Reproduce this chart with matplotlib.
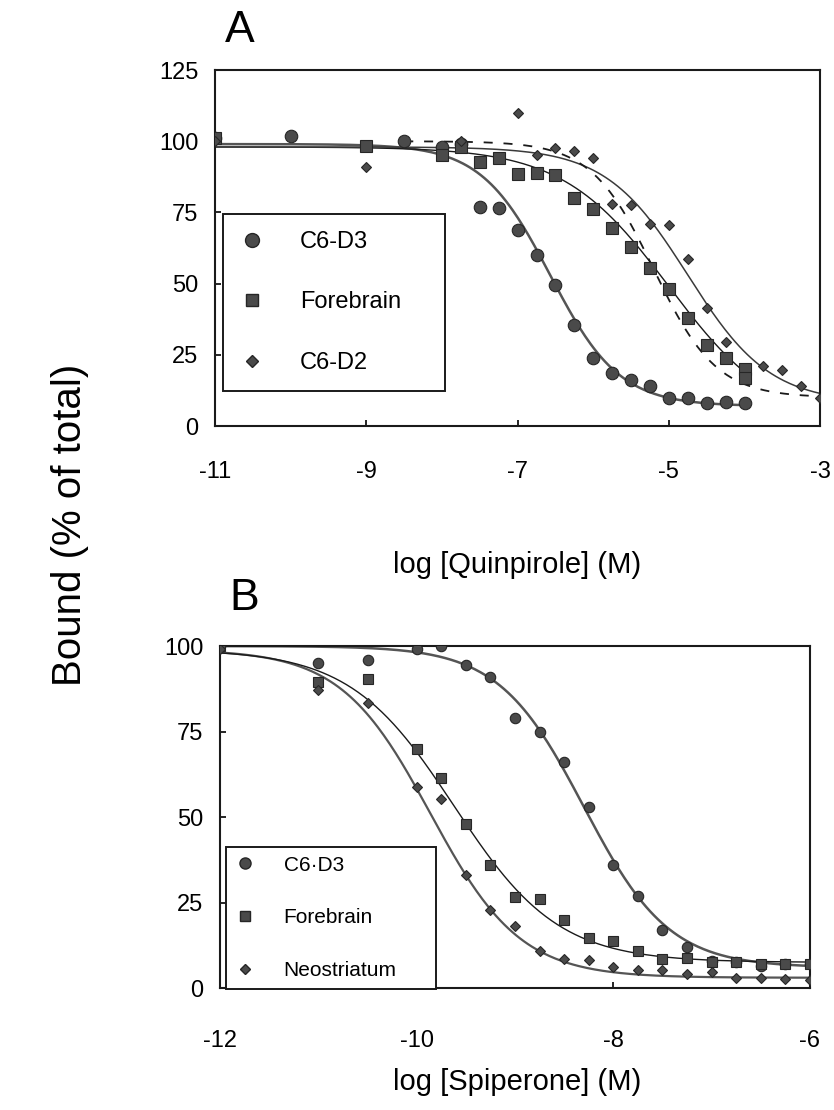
import numpy as np
import matplotlib.pyplot as plt
from matplotlib.lines import Line2D

plt.rcParams['font.family'] = ['Liberation Sans', 'DejaVu Sans']
plt.rcParams['axes.unicode_minus'] = False

# ---- panel A: log [Quinpirole] (M) ----
a_d3_x = [-11, -10, -8.5, -8, -7.75, -7.5, -7.25, -7, -6.75, -6.5, -6.25,
          -6, -5.75, -5.5, -5.25, -5, -4.75, -4.5, -4.25, -4]
a_d3_y = [101, 102, 100, 98, 99, 77, 76.5, 69, 60, 49.5, 35.5,
          24, 18.5, 16, 14, 10, 10, 8, 8.5, 8]

a_fb_x = [-11, -9, -8, -7.75, -7.5, -7.25, -7, -6.75, -6.5, -6.25, -6,
          -5.75, -5.5, -5.25, -5, -4.75, -4.5, -4.25, -4, -4]
a_fb_y = [101, 98.5, 95, 98, 92.7, 94, 88.6, 89, 88, 80, 76.3,
          69.5, 63, 55.5, 48, 38, 28.5, 24, 20, 17]

a_d2_x = [-11, -9, -7.75, -7, -6.75, -6.5, -6.25, -6, -5.75, -5.5, -5.25,
          -5, -4.75, -4.5, -4.25, -3.75, -3.5, -3.25, -3]
a_d2_y = [100, 91, 100, 110, 95, 97.5, 96.5, 94, 78, 77.5, 71,
          70.5, 58.5, 41.5, 29.5, 21, 19.5, 14, 10]

# fitted curves: top, bottom, logIC50, slope, x range
a_d3_fit = [99, 7, -6.57, 0.95, -11, -4]
a_fb_fit = [98, 0, -5.0, 0.62, -11, -4]
a_d2_fit = [98, 8, -4.75, 0.8, -11, -3]
a_dash_fit = [100, 10, -5.2, 1.05, -8.5, -3]

# ---- panel B: log [Spiperone] (M) ----
b_x = [-12, -11, -10.5, -10, -9.75, -9.5, -9.25, -9, -8.75, -8.5, -8.25,
       -8, -7.75, -7.5, -7.25, -7, -6.75, -6.5, -6.25, -6]
b_d3_y = [100, 95, 96, 99, 100, 94.5, 91, 79, 75, 66, 53,
          36, 27, 17, 12, 8, 7.5, 6.5, 7, 7]
b_fb_y = [100, 89.5, 90.5, 70, 61.5, 48, 36, 26.5, 26, 20, 14.7,
          13.7, 10.8, 8.5, 8.8, 7.5, 7.5, 7, 7, 7]
b_ns_y = [99, 87, 83.3, 58.7, 55.2, 33, 22.7, 18, 10.8, 8.5, 8.1,
          6.2, 5.2, 5.4, 4.2, 4.8, 3, 2.9, 2.6, 2.4]

b_d3_fit = [100, 6, -8.3, 1.0, -12, -6]
b_fb_fit = [99, 7.5, -9.62, 0.82, -12, -6]
b_ns_fit = [99, 3, -9.86, 0.95, -12, -6]


def curve(p):
    top, bottom, x50, n, x0, x1 = p
    x = np.linspace(x0, x1, 300)
    return x, bottom + (top - bottom) / (1 + 10 ** (n * (x - x50)))


fc = '#4a4a4a'
ec = '#262626'

fig = plt.figure(figsize=(8.34, 11.1), dpi=100)
axA = fig.add_axes([0.258, 0.6162, 0.7254, 0.3207])
axB = fig.add_axes([0.2638, 0.1099, 0.7074, 0.3081])

# panel A curves
axA.plot(*curve(a_d3_fit), color='#555555', lw=1.8, zorder=2)
axA.plot(*curve(a_fb_fit), color='#1a1a1a', lw=1.0, zorder=2)
axA.plot(*curve(a_d2_fit), color='#3a3a3a', lw=1.1, zorder=2)
axA.plot(*curve(a_dash_fit), color='#1a1a1a', lw=1.3, ls=(0, (5, 6)), zorder=2)

axA.plot(a_d3_x, a_d3_y, 'o', ms=9, mfc=fc, mec=ec, mew=0.8, zorder=3)
axA.plot(a_fb_x, a_fb_y, 's', ms=8.5, mfc=fc, mec=ec, mew=0.8, zorder=3)
axA.plot(a_d2_x, a_d2_y, 'D', ms=5.5, mfc=fc, mec=ec, mew=0.8, zorder=3)

axA.set_xlim(-11, -3)
axA.set_ylim(0, 125)
axA.set_xticks([-11, -9, -7, -5, -3])
axA.set_yticks([0, 25, 50, 75, 100, 125])

handlesA = [Line2D([], [], ls='none', marker='o', ms=10, mfc=fc, mec=ec),
            Line2D([], [], ls='none', marker='s', ms=9, mfc=fc, mec=ec),
            Line2D([], [], ls='none', marker='D', ms=6, mfc=fc, mec=ec)]
legA = axA.legend(handlesA, ['C6-D3', 'Forebrain', 'C6-D2'],
                  loc='upper left', bbox_to_anchor=(0.013, 0.094, 0.367, 0.502),
                  mode='expand', borderaxespad=0, fontsize=17, numpoints=1,
                  labelspacing=1.63, borderpad=0.72, handlelength=1.0,
                  handletextpad=1.55, fancybox=False, framealpha=1,
                  edgecolor='#1a1a1a')
legA.get_frame().set_linewidth(1.4)

# panel B
axB.plot(*curve(b_d3_fit), color='#555555', lw=1.8, zorder=2)
axB.plot(*curve(b_ns_fit), color='#555555', lw=1.6, zorder=2)
axB.plot(*curve(b_fb_fit), color='#1a1a1a', lw=1.0, zorder=2)

axB.plot(b_x, b_d3_y, 'o', ms=7.5, mfc=fc, mec=ec, mew=0.8, zorder=3)
axB.plot(b_x, b_fb_y, 's', ms=7, mfc=fc, mec=ec, mew=0.8, zorder=3)
axB.plot(b_x, b_ns_y, 'D', ms=5, mfc=fc, mec=ec, mew=0.8, zorder=3)

axB.set_xlim(-12, -6)
axB.set_ylim(0, 100)
axB.set_xticks([-12, -10, -8, -6])
axB.set_yticks([0, 25, 50, 75, 100])

handlesB = [Line2D([], [], ls='none', marker='o', ms=8, mfc=fc, mec=ec),
            Line2D([], [], ls='none', marker='s', ms=7, mfc=fc, mec=ec),
            Line2D([], [], ls='none', marker='D', ms=5, mfc=fc, mec=ec)]
legB = axB.legend(handlesB, ['C6\u00b7D3', 'Forebrain', 'Neostriatum'],
                  loc='upper left', bbox_to_anchor=(0.01, 0.0, 0.356, 0.413),
                  mode='expand', borderaxespad=0, fontsize=15, numpoints=1,
                  labelspacing=1.62, borderpad=0.42, handlelength=0.95,
                  handletextpad=1.4, fancybox=False, framealpha=1,
                  edgecolor='#1a1a1a')
legB.get_frame().set_linewidth(1.4)

for ax, xpad in ((axA, 25), (axB, 30)):
    for s in ax.spines.values():
        s.set_linewidth(1.5)
        s.set_color('#1a1a1a')
    ax.tick_params(direction='in', length=4, width=1.2, labelsize=17)
    ax.tick_params(axis='x', pad=xpad)
    ax.tick_params(axis='y', pad=12)

fig.text(240 / 834, 1 - 30 / 1110, 'A', fontsize=32, ha='center', va='center')
fig.text(244 / 834, 1 - 598 / 1110, 'B', fontsize=32, ha='center', va='center')
fig.text(517 / 834, 1 - 565 / 1110, 'log [Quinpirole] (M)', fontsize=21,
         ha='center', va='center')
fig.text(517 / 834, 1 - 1082 / 1110, 'log [Spiperone] (M)', fontsize=21,
         ha='center', va='center')
fig.text(70 / 834, 1 - 525 / 1110, 'Bound (% of total)', fontsize=29,
         rotation=90, ha='center', va='center')

fig.savefig('out.png', dpi=100)
